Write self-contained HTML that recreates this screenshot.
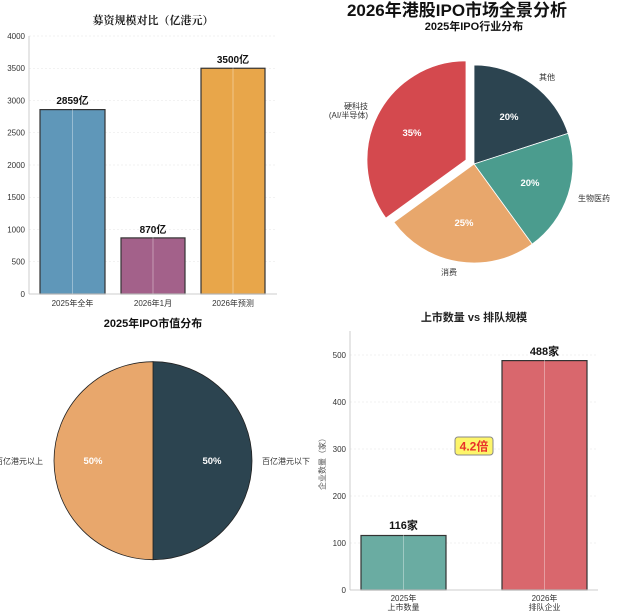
<!DOCTYPE html>
<html><head><meta charset="utf-8"><style>
html,body{margin:0;padding:0;background:#fff;}
svg{display:block;font-family:"Liberation Sans","Noto Sans CJK SC","WenQuanYi Zen Hei",sans-serif;}
</style></head><body>
<svg width="640" height="612" viewBox="0 0 640 612" xmlns="http://www.w3.org/2000/svg">
<rect width="640" height="612" fill="#fff"/>
<text x="457" y="16" text-anchor="middle" font-size="17" font-weight="bold" fill="#111">2026年港股IPO市场全景分析</text>

<!-- Chart 1 -->
<text x="153" y="24" text-anchor="middle" font-size="11" font-weight="bold" font-family="Noto Serif CJK SC, serif" fill="#222">募资规模对比（亿港元）</text>
<g stroke="#e6e6e6" stroke-width="0.6" stroke-dasharray="2,2">
<line x1="29" x2="277" y1="36" y2="36"/><line x1="29" x2="277" y1="68.25" y2="68.25"/><line x1="29" x2="277" y1="100.5" y2="100.5"/><line x1="29" x2="277" y1="132.75" y2="132.75"/><line x1="29" x2="277" y1="165" y2="165"/><line x1="29" x2="277" y1="197.25" y2="197.25"/><line x1="29" x2="277" y1="229.5" y2="229.5"/><line x1="29" x2="277" y1="261.75" y2="261.75"/>
</g>
<rect x="40" y="109.6" width="65" height="184.4" fill="#5f97b9" stroke="#333" stroke-width="1.2"/>
<rect x="121" y="237.9" width="64" height="56.1" fill="#a3618a" stroke="#333" stroke-width="1.2"/>
<rect x="201" y="68.25" width="64" height="225.75" fill="#e8a64a" stroke="#333" stroke-width="1.2"/>
<g stroke="#fff" stroke-opacity="0.45" stroke-width="0.8"><line x1="72.5" x2="72.5" y1="36" y2="294"/><line x1="153" x2="153" y1="36" y2="294"/><line x1="233" x2="233" y1="36" y2="294"/></g>
<line x1="29" x2="29" y1="36" y2="294" stroke="#ccc"/><line x1="29" x2="277" y1="294" y2="294" stroke="#ccc"/>
<g font-size="8" fill="#333" text-anchor="end">
<text x="25" y="297">0</text><text x="25" y="264.5">500</text><text x="25" y="232.5">1000</text><text x="25" y="200">1500</text><text x="25" y="168">2000</text><text x="25" y="135.5">2500</text><text x="25" y="103.5">3000</text><text x="25" y="71">3500</text><text x="25" y="39">4000</text>
</g>
<g font-size="8" fill="#333" text-anchor="middle"><text x="72.5" y="306">2025年全年</text><text x="153" y="306">2026年1月</text><text x="233" y="306">2026年预测</text></g>
<g font-size="10" font-weight="bold" fill="#111" text-anchor="middle"><text x="72.5" y="104">2859亿</text><text x="153" y="233">870亿</text><text x="233" y="63">3500亿</text></g>

<!-- Chart 2 pie -->
<text x="474" y="30" text-anchor="middle" font-size="11" font-weight="bold" fill="#111">2025年IPO行业分布</text>
<path d="M474,164 L474,65 A99,99 0 0 1 568.1,133.4 Z" fill="#2c4450" stroke="#fff" stroke-width="0.8"/>
<path d="M474,164 L568.1,133.4 A99,99 0 0 1 532.2,244.1 Z" fill="#4b9c8e" stroke="#fff" stroke-width="0.8"/>
<path d="M474,164 L532.2,244.1 A99,99 0 0 1 393.9,222.2 Z" fill="#e8a76c" stroke="#fff" stroke-width="0.8"/>
<path d="M466,159.9 L385.9,218.1 A99,99 0 0 1 466,60.9 Z" fill="#d4494e" stroke="#fff" stroke-width="0.8"/>
<g font-size="9.5" font-weight="bold" fill="#fff" text-anchor="middle"><text x="509" y="120">20%</text><text x="530" y="186">20%</text><text x="464" y="226">25%</text><text x="412" y="136">35%</text></g>
<g font-size="8" fill="#333"><text x="539" y="80">其他</text><text x="578" y="201">生物医药</text><text x="441" y="275">消费</text><text x="368" y="109" text-anchor="end">硬科技</text><text x="368" y="118" text-anchor="end">(AI/半导体)</text></g>

<!-- Chart 3 pie -->
<text x="153" y="327" text-anchor="middle" font-size="11" font-weight="bold" fill="#111">2025年IPO市值分布</text>
<path d="M153,460.7 L153,361.7 A99,99 0 0 1 153,559.7 Z" fill="#2c4450" stroke="#222" stroke-width="0.8"/>
<path d="M153,460.7 L153,559.7 A99,99 0 0 1 153,361.7 Z" fill="#e8a76c" stroke="#222" stroke-width="0.8"/>
<g font-size="9.5" font-weight="bold" fill="#fff" text-anchor="middle"><text x="93" y="464">50%</text><text x="212" y="464">50%</text></g>
<g font-size="8" fill="#333"><text x="43" y="464" text-anchor="end">百亿港元以上</text><text x="262" y="464">百亿港元以下</text></g>

<!-- Chart 4 -->
<text x="474" y="321" text-anchor="middle" font-size="11" font-weight="bold" fill="#222">上市数量 vs 排队规模</text>
<g stroke="#e6e6e6" stroke-width="0.6" stroke-dasharray="2,2">
<line x1="350" x2="598" y1="355" y2="355"/><line x1="350" x2="598" y1="402" y2="402"/><line x1="350" x2="598" y1="449" y2="449"/><line x1="350" x2="598" y1="496" y2="496"/><line x1="350" x2="598" y1="543" y2="543"/>
</g>
<rect x="361" y="535.5" width="85" height="54.5" fill="#6aaca2" stroke="#333" stroke-width="1.2"/>
<rect x="502" y="360.6" width="85" height="229.4" fill="#d9676d" stroke="#333" stroke-width="1.2"/>
<g stroke="#fff" stroke-opacity="0.45" stroke-width="0.8"><line x1="403.5" x2="403.5" y1="331" y2="590"/><line x1="544.5" x2="544.5" y1="331" y2="590"/></g>
<line x1="350" x2="350" y1="331" y2="590" stroke="#ccc"/><line x1="350" x2="598" y1="590" y2="590" stroke="#ccc"/>
<g font-size="8" fill="#333" text-anchor="end"><text x="346" y="593">0</text><text x="346" y="546">100</text><text x="346" y="499">200</text><text x="346" y="452">300</text><text x="346" y="405">400</text><text x="346" y="358">500</text></g>
<text transform="translate(325,462) rotate(-90)" font-size="8" fill="#555" text-anchor="middle">企业数量（家）</text>
<g font-size="8" fill="#333" text-anchor="middle"><text x="403.5" y="601">2025年</text><text x="403.5" y="610">上市数量</text><text x="544.5" y="601">2026年</text><text x="544.5" y="610">排队企业</text></g>
<g font-size="11" font-weight="bold" fill="#111" text-anchor="middle"><text x="403.5" y="529">116家</text><text x="544.5" y="355">488家</text></g>
<rect x="455" y="437" width="38" height="18" rx="3" fill="#fdf56a" stroke="#888" stroke-width="1"/>
<text x="474" y="450.5" text-anchor="middle" font-size="12" font-weight="bold" fill="#e8302a">4.2倍</text>
</svg>
</body></html>
